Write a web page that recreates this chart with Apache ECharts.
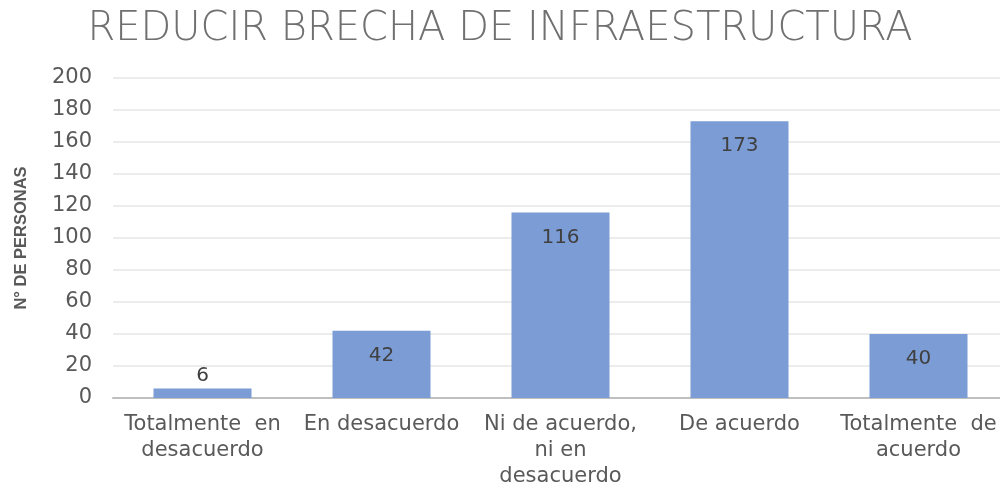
<!doctype html>
<html>
<head>
    <meta charset="UTF-8">
    <title>Reducir brecha de infraestructura</title>
    <script src="https://cdn.jsdelivr.net/npm/echarts@6/dist/echarts.min.js"></script>
    <style>
        html, body { margin: 0; padding: 0; background: #fff; }
        #main { width: 1000px; height: 486px; }
    </style>
</head>
<body>
<div id="main"></div>
<script>
    // datos
    var categorias = ['Totalmente  en\ndesacuerdo', 'En desacuerdo', 'Ni de acuerdo,\nni en\ndesacuerdo', 'De acuerdo', 'Totalmente  de\nacuerdo'];
    var personas = [6, 42, 116, 173, 40];
    var ejeY = [0, 20, 40, 60, 80, 100, 120, 140, 160, 180, 200];

    var gris = '#595959';
    var myChart = echarts.init(document.getElementById('main'));

    var option = {
        backgroundColor: '#fff',
        animation: false,
        title: {
            text: 'REDUCIR BRECHA DE INFRAESTRUCTURA',
            left: 'center',
            top: 5,
            textStyle: {
                fontFamily: '"DejaVu Sans ExtraLight", "DejaVu Sans"',
                fontWeight: 200,
                fontSize: 40,
                color: '#707070'
            }
        },
        grid: {
            left: 113,
            top: 78,
            width: 895,
            bottom: 88,
            outerBoundsMode: 'none'
        },
        xAxis: {
            type: 'category',
            data: categorias,
            axisLine: { lineStyle: { color: '#bfbfbf', width: 2 } },
            axisTick: { show: false },
            axisLabel: {
                interval: 0,
                margin: 14,
                fontFamily: 'DejaVu Sans',
                fontSize: 21,
                lineHeight: 26,
                color: gris
            }
        },
        yAxis: {
            type: 'value',
            min: ejeY[0],
            max: ejeY[ejeY.length - 1],
            interval: 20,
            name: 'N° DE PERSONAS',
            nameLocation: 'middle',
            nameGap: 83,
            nameTextStyle: {
                fontFamily: 'Liberation Sans',
                fontWeight: 'bold',
                fontSize: 16.5,
                color: gris
            },
            axisLine: { show: false },
            axisTick: { show: false },
            axisLabel: {
                margin: 21,
                fontFamily: 'DejaVu Sans',
                fontSize: 21,
                color: gris
            },
            splitLine: { lineStyle: { color: '#ececec', width: 2 } }
        },
        series: [
            {
                type: 'bar',
                barWidth: 98,
                data: personas.map(function (v) {
                    return {
                        value: v,
                        label: v < 20 ? { position: 'top', distance: 3 } : { position: 'insideTop', distance: 15 }
                    };
                }),
                itemStyle: { color: '#7b9cd5' },
                label: {
                    show: true,
                    fontFamily: 'DejaVu Sans',
                    fontSize: 20,
                    color: '#404040'
                }
            }
        ]
    };
    myChart.setOption(option);
</script>
</body>
</html>
